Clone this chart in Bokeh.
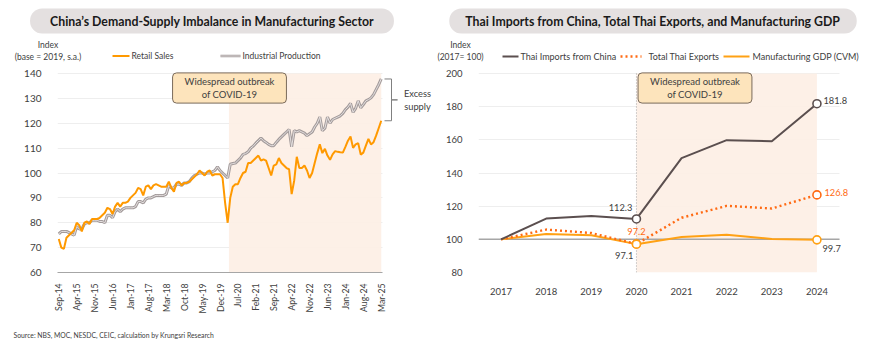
import numpy as np
from bokeh.plotting import figure
from bokeh.layouts import row, column
from bokeh.models import Label, FixedTicker, Range1d
from bokeh.embed import file_html
from bokeh.resources import INLINE

FONT = "Lato"
DARK = "#404040"

# ---------------- data: left chart (monthly, Sep-14 .. Mar-25) ----------------
month_tick_labels = ["Sep-14", "Apr-15", "Nov-15", "Jun-16", "Jan-17", "Aug-17", "Mar-18",
                     "Oct-18", "May-19", "Dec-19", "Jul-20", "Feb-21", "Sep-21", "Apr-22",
                     "Nov-22", "Jun-23", "Jan-24", "Aug-24", "Mar-25"]
retail_sales = [
    73.5, 70, 69.5, 74, 75, 76, 77, 80, 79, 76.5,
    80, 80.5, 79.5, 81.5, 81.5, 81.5, 82, 83, 84, 86,
    85.5, 83.5, 86.5, 88, 86.5, 88, 88, 88.5, 90, 91,
    92, 94, 93.5, 91, 94.5, 95, 93.5, 95, 95.5, 95,
    94.5, 94.5, 94.5, 96.5, 94, 92.5, 96, 96.5, 95, 96,
    96, 96.5, 97.5, 98.5, 99.5, 101, 100, 99, 100.5, 101,
    99, 99.5, 99.5, 99.5, 98, 88, 80, 90, 94.5, 95.5,
    95.5, 98, 100, 100.5, 104, 104, 105, 106, 107, 105,
    105.5, 105, 102, 99, 103, 103.5, 106, 104, 103, 102,
    101.5, 91.5, 97, 106.5, 102, 102, 103, 101, 98, 100,
    104, 108, 111.5, 108, 109.7, 107, 105.3, 107.5, 108.8, 108.5,
    108.3, 108.2, 110.5, 113, 114.7, 110.1, 111.5, 112, 107.4, 108.2,
    111, 113.7, 111.5, 112.4, 115, 118, 121]
industrial_production = [
    75.5, 76.5, 76.5, 76.5, 76, 75.5, 75, 78.5, 77.5, 77.5,
    79.5, 80, 80, 81, 81, 81, 80.5, 80.5, 80, 83,
    83, 82, 84.5, 85.5, 84.5, 85.5, 86, 86, 86, 86,
    86.5, 88.5, 88.5, 88, 89.5, 90, 90, 90.5, 91, 91,
    91, 91, 91.5, 95, 94, 94, 95.5, 95.5, 95, 96,
    96, 96.5, 98, 99, 99.5, 100, 100, 99.5, 100, 100,
    100.5, 101, 102.5, 101, 100, 99, 98, 103.5, 103.8, 104,
    105, 106, 107.5, 107.8, 108.5, 110, 110.8, 112, 113, 114,
    113, 112.3, 111.5, 111, 111, 112.3, 113.5, 114.5, 115.5, 116.5,
    117.5, 110.5, 117, 116.5, 117, 116.5, 116, 115, 115.8, 116.5,
    118.5, 120, 122.5, 117, 118, 122.5, 120, 121.5, 122, 122.5,
    123, 124, 125.5, 126.5, 128, 124.4, 126, 129, 126.2, 127.5,
    129, 129.5, 130.2, 131.5, 133.5, 135.5, 137.8]
month_index = list(range(len(retail_sales)))
month_ticks = list(range(0, len(retail_sales), 7))
left_y_ticks = [60, 70, 80, 90, 100, 110, 120, 130, 140]
covid_start_month = 66.5

# ---------------- data: right chart (annual) ----------------
years = [2017, 2018, 2019, 2020, 2021, 2022, 2023, 2024]
imports_from_china = [100, 112.5, 114.0, 112.3, 149.0, 159.8, 159.2, 181.8]
total_thai_exports = [100, 105.9, 103.8, 97.2, 113.0, 120.2, 118.6, 126.8]
manufacturing_gdp = [100, 103.2, 102.4, 97.1, 101.4, 102.8, 100.2, 99.7]
right_y_ticks = [80, 100, 120, 140, 160, 180, 200]
covid_year = 2020

# ---------------- layout geometry (canvas px) ----------------
W, H = 870, 350
HEAD_H, FOOT_H = 66, 24
PLOT_H = H - HEAD_H - FOOT_H
AX_BOTTOM = 272          # canvas y of the x axis
BOTTOM_BORDER = HEAD_H + PLOT_H - AX_BOTTOM

L_SX = 325.0 / len(retail_sales)     # px per month
L_SY = 199.0 / 80.0                  # px per index point
def lx(px):
    return -0.5 + (px - 57) / L_SX
def ly(py):
    return 60 + (AX_BOTTOM - py) / L_SY

R_SX = 361.0 / 8.0
R_SY = 199.0 / 120.0
R_X0, R_X1 = 2016.5, 2024.5


def label(p, text, x, y, size, color=DARK, align="left", baseline="middle", bold=False, **kw):
    lb = Label(text=text, x=x, y=y, text_font=FONT, text_font_size=size, text_color=color,
               text_align=align, text_baseline=baseline,
               text_font_style="bold" if bold else "normal", **kw)
    p.add_layout(lb)
    return lb


def bare(p):
    p.outline_line_color = None
    p.axis.visible = False
    p.grid.visible = False
    return p


C_RET, C_IP_OUT, C_IP_IN = "#ff9900", "#a39b9b", "#e4dfdf"
C_IMP, C_EXP, C_GDP = "#5b4f4f", "#ff6a13", "#ffa114"
SHADE = "#fdeee4"

# ======================= HEADER (titles, legends) =======================
hd = bare(figure(width=W, height=HEAD_H, x_range=Range1d(0, W), y_range=Range1d(HEAD_H, 0),
                 output_backend="svg", toolbar_location=None,
                 min_border_left=0, min_border_right=0, min_border_top=0, min_border_bottom=0))
label(hd, "China\u2019s Demand-Supply Imbalance in Manufacturing Sector", 211.5, 20.5,
      "12.3px", color="#1a1a1a", align="center", bold=True,
      background_fill_color="#e4e0e0", padding=(20, 5), border_radius=12)
label(hd, "Thai Imports from China, Total Thai Exports, and Manufacturing GDP", 652.5, 20.5,
      "12.3px", color="#1a1a1a", align="center", bold=True,
      background_fill_color="#e4e0e0", padding=(16, 5), border_radius=12)
label(hd, "Index\n(base = 2019, s.a.)", 47.5, 50.5, "8.5px", align="center")
label(hd, "Index\n(2017= 100)", 460, 50.5, "8.5px", align="center")
# left legend
hd.line([112, 129], [55.5, 55.5], line_color=C_RET, line_width=2)
label(hd, "Retail Sales", 131, 55.5, "8.5px")
hd.line([220, 240], [55.5, 55.5], line_color=C_IP_OUT, line_width=2.6)
hd.line([220, 240], [55.5, 55.5], line_color=C_IP_IN, line_width=0.8)
label(hd, "Industrial Production", 242, 55.5, "8.5px")
# right legend
hd.line([502, 518], [56, 56], line_color=C_IMP, line_width=2)
label(hd, "Thai Imports from China", 520, 56, "9px")
hd.line([620, 641], [56, 56], line_color=C_EXP, line_width=2.4, line_dash="2 3")
label(hd, "Total Thai Exports", 648, 56, "9px")
hd.line([723, 749], [56, 56], line_color=C_GDP, line_width=2)
label(hd, "Manufacturing GDP (CVM)", 752, 56, "9px")

# ======================= LEFT FIGURE =======================
last = len(retail_sales) - 1
p1 = figure(width=435, height=PLOT_H, x_range=(-0.5, lx(435)), y_range=(60, ly(HEAD_H)),
            output_backend="svg", toolbar_location=None,
            min_border_left=57, min_border_right=0, min_border_top=0,
            min_border_bottom=BOTTOM_BORDER)
p1.outline_line_color = None
p1.xaxis.ticker = FixedTicker(ticks=month_ticks)
p1.xaxis.major_label_overrides = {t: l for t, l in zip(month_ticks, month_tick_labels)}
p1.xaxis.major_label_orientation = np.pi / 2
p1.xaxis.bounds = (-0.5, last + 0.5)
p1.xaxis.axis_line_color = "#a6a6a6"
p1.xaxis.axis_line_width = 1.2
p1.xaxis.major_tick_line_color = None
p1.xaxis.minor_tick_line_color = None
p1.xaxis.major_label_text_font = FONT
p1.xaxis.major_label_text_font_size = "8.7px"
p1.xaxis.major_label_text_color = DARK
p1.xaxis.major_label_standoff = 5
p1.xgrid.visible = False
p1.yaxis.ticker = FixedTicker(ticks=left_y_ticks)
p1.yaxis.axis_line_color = None
p1.yaxis.major_tick_line_color = None
p1.yaxis.minor_tick_line_color = None
p1.yaxis.major_label_text_font = FONT
p1.yaxis.major_label_text_font_size = "10px"
p1.yaxis.major_label_text_color = DARK
p1.yaxis.major_label_standoff = 10
p1.ygrid.grid_line_color = "#eeeeee"
try:
    p1.ygrid.cross_bounds = (-0.5, last + 0.5)
except Exception:
    pass

p1.quad(left=[covid_start_month], right=[last], bottom=[left_y_ticks[0]], top=[left_y_ticks[-1]],
        fill_color=SHADE, fill_alpha=0.9, line_color=None)
p1.line(month_index, industrial_production, line_color=C_IP_OUT, line_width=3)
p1.line(month_index, industrial_production, line_color=C_IP_IN, line_width=1)
p1.line(month_index, retail_sales, line_color=C_RET, line_width=2)

# excess supply bracket
top_v, bot_v = industrial_production[-1], retail_sales[-1]
mid_v = (top_v + bot_v) / 2
bx0, bx1, bx2 = lx(384), lx(391), lx(397)
p1.line([bx0, bx1, bx1, bx2, bx1, bx1, bx0], [top_v, top_v, mid_v, mid_v, mid_v, bot_v, bot_v],
        line_color="#808080", line_width=1)
label(p1, "Excess\nsupply", lx(417), mid_v, "9.3px", align="center")

label(p1, "Widespread outbreak\nof COVID-19", lx(229), ly(87.5), "9.5px", align="center",
      background_fill_color="#fde4bc", border_line_color="#7a6a5a", border_line_width=1,
      padding=(12, 3), border_radius=4)

# ======================= RIGHT FIGURE =======================
p2 = figure(width=435, height=PLOT_H,
            x_range=(R_X0, R_X0 + (870 - 478) / R_SX),
            y_range=(80, 80 + (AX_BOTTOM - HEAD_H) / R_SY),
            output_backend="svg", toolbar_location=None,
            min_border_left=43, min_border_right=0, min_border_top=0,
            min_border_bottom=BOTTOM_BORDER)
p2.outline_line_color = None
p2.xaxis.ticker = FixedTicker(ticks=years)
p2.xaxis.axis_line_color = None
p2.xaxis.major_tick_line_color = None
p2.xaxis.minor_tick_line_color = None
p2.xaxis.major_label_text_font = FONT
p2.xaxis.major_label_text_font_size = "9.5px"
p2.xaxis.major_label_text_color = DARK
p2.xaxis.major_label_standoff = 9
p2.xgrid.visible = False
p2.yaxis.ticker = FixedTicker(ticks=right_y_ticks)
p2.yaxis.axis_line_color = None
p2.yaxis.major_tick_line_color = None
p2.yaxis.minor_tick_line_color = None
p2.yaxis.major_label_text_font = FONT
p2.yaxis.major_label_text_font_size = "9.5px"
p2.yaxis.major_label_text_color = DARK
p2.yaxis.major_label_standoff = 10
p2.ygrid.grid_line_color = "#eeeeee"
try:
    p2.ygrid.cross_bounds = (R_X0, R_X1)
except Exception:
    pass

p2.quad(left=[covid_year], right=[years[-1]], bottom=[right_y_ticks[0]], top=[right_y_ticks[-1]],
        fill_color=SHADE, fill_alpha=0.9, line_color=None)
p2.line([R_X0, R_X1], [100, 100], line_color="#a6a6a6", line_width=1.5)
p2.segment(x0=[covid_year], y0=[right_y_ticks[0]], x1=[covid_year], y1=[right_y_ticks[-1]],
           line_color="#a6a6a6", line_width=1, line_dash="1 2")

p2.line(years, manufacturing_gdp, line_color=C_GDP, line_width=2)
p2.line(years, total_thai_exports, line_color=C_EXP, line_width=2.4, line_dash="2 3")
p2.line(years, imports_from_china, line_color=C_IMP, line_width=2)

i20 = years.index(covid_year)
for series, col in ((imports_from_china, C_IMP), (total_thai_exports, C_EXP), (manufacturing_gdp, C_GDP)):
    p2.scatter([years[i20], years[-1]], [series[i20], series[-1]], marker="circle", size=8,
               fill_color="white", line_color=col, line_width=1.6)

label(p2, f"{imports_from_china[-1]:.1f}", years[-1] + 6.5 / R_SX, imports_from_china[-1] + 3 / R_SY, "9.3px")
label(p2, f"{total_thai_exports[-1]:.1f}", years[-1] + 7.5 / R_SX, total_thai_exports[-1] + 2.7 / R_SY, "9.3px", color=C_EXP)
label(p2, f"{manufacturing_gdp[-1]:.1f}", years[-1] + 5.5 / R_SX, manufacturing_gdp[-1] - 8.7 / R_SY, "9.3px")
label(p2, f"{imports_from_china[i20]:.1f}", years[i20] - 4 / R_SX, imports_from_china[i20] + 11.7 / R_SY, "9.3px", align="right")
label(p2, f"{total_thai_exports[i20]:.1f}", years[i20], total_thai_exports[i20] + 12.8 / R_SY, "9.3px", color=C_EXP, align="center")
label(p2, f"{manufacturing_gdp[i20]:.1f}", years[i20] - 3 / R_SX, manufacturing_gdp[i20] - 11.4 / R_SY, "9.3px", align="right")

label(p2, "Widespread outbreak\nof COVID-19", R_X0 + (694.5 - 478) / R_SX,
      80 + (AX_BOTTOM - 87.5) / R_SY, "9.5px", align="center",
      background_fill_color="#fde4bc", border_line_color="#7a6a5a", border_line_width=1,
      padding=(12, 3), border_radius=4)

# ======================= FOOTER (source) =======================
ft = bare(figure(width=W, height=FOOT_H, x_range=Range1d(0, W), y_range=Range1d(FOOT_H, 0),
                 output_backend="svg", toolbar_location=None,
                 min_border_left=0, min_border_right=0, min_border_top=0, min_border_bottom=0))
label(ft, "Source: NBS, MOC, NESDC, CEIC, calculation by Krungsri Research", 13, 334 - (H - FOOT_H),
      "6.8px")

layout = column(hd, row(p1, p2), ft)
open("out.html", "w").write(file_html(layout, INLINE))
